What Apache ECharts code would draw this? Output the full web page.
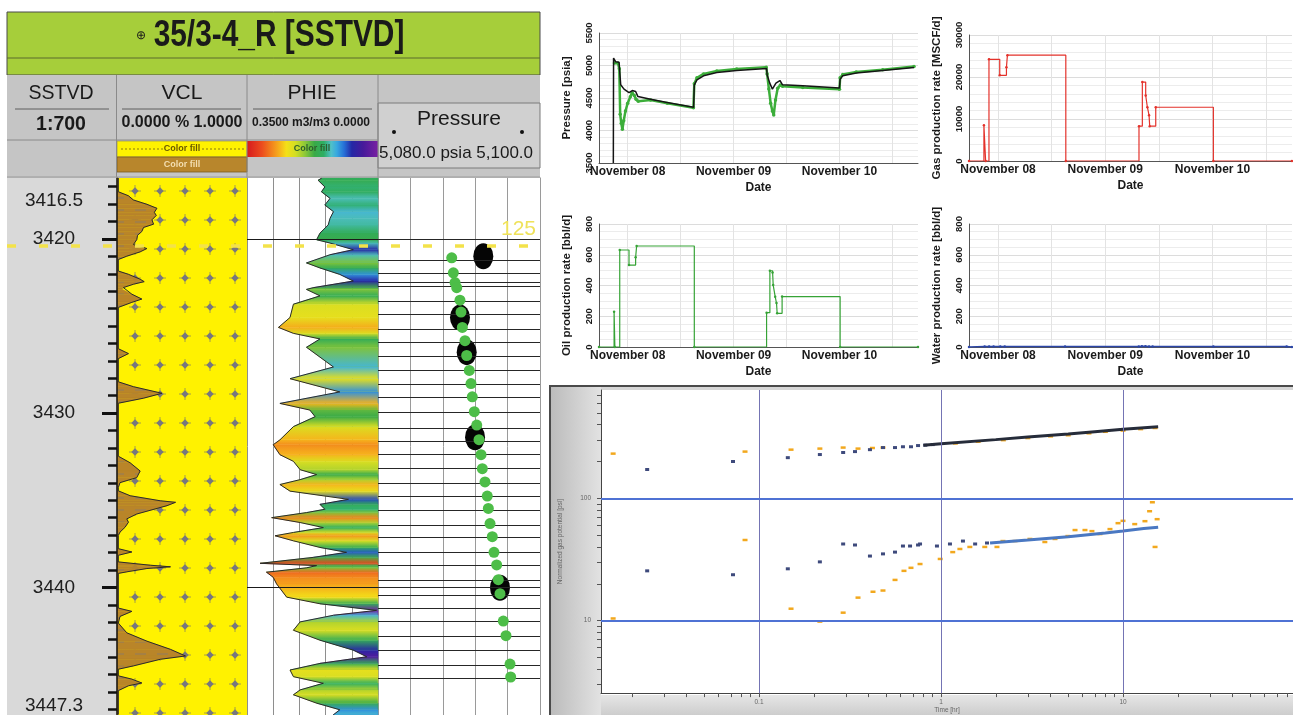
<!DOCTYPE html>
<html>
<head>
<meta charset="utf-8">
<script src="https://cdn.jsdelivr.net/npm/echarts@6/dist/echarts.min.js"></script>
<style>
  html, body { margin: 0; padding: 0; background: #ffffff; }
  #main { width: 1293px; height: 715px; }
</style>
</head>
<body>
<div id="main"></div>
<script>
// ---------------- Well log 35/3-4_R (depth in m SSTVD) ----------------
const depthMin = 3416.5;
const depthMax = 3447.3;
const depthLabelValues = [3416.5, 3420, 3430, 3440, 3447.3];
const depthMajorTicks = [3420, 3430, 3440];
const depthMinorTicks = [3417, 3418, 3419, 3421, 3422, 3423, 3424, 3425, 3426, 3427, 3428, 3429,
  3431, 3432, 3433, 3434, 3435, 3436, 3437, 3438, 3439, 3441, 3442, 3443, 3444, 3445, 3446, 3447];

// Clay volume (fraction)
const vclDepth = [3416.5, 3417.29, 3417.52, 3417.76, 3418.01, 3418.24, 3418.47, 3418.65, 3418.90, 3419.15,
  3419.34, 3419.57, 3419.79, 3420.04, 3420.32, 3420.55, 3420.74, 3420.99, 3421.18, 3421.84,
  3422.03, 3422.31, 3422.45, 3422.60, 3422.79, 3422.89, 3423.17, 3423.45, 3423.64, 3423.93,
  3426.30, 3426.58, 3426.87, 3428.20, 3428.48, 3428.86, 3429.14, 3429.43, 3432.47, 3432.85,
  3433.32, 3433.70, 3433.99, 3434.27, 3434.46, 3434.74, 3435.03, 3435.12, 3435.31, 3435.79,
  3436.07, 3436.26, 3436.55, 3436.83, 3437.02, 3437.78, 3437.97, 3438.16, 3438.54, 3438.73,
  3438.82, 3438.92, 3439.11, 3439.20, 3441.19, 3441.38, 3441.67, 3442.05, 3442.61, 3443.09,
  3443.56, 3443.94, 3444.13, 3444.51, 3444.70, 3445.08, 3445.27, 3445.49, 3445.65, 3445.93, 3447.3];
const vclValue = [0.01, 0.01, 0.088, 0.126, 0.230, 0.307, 0.287, 0.302, 0.269, 0.281,
  0.204, 0.191, 0.158, 0.152, 0.126, 0.230, 0.178, 0.075, 0.01, 0.01,
  0.088, 0.178, 0.209, 0.126, 0.049, 0.04, 0.114, 0.191, 0.114, 0.01,
  0.01, 0.088, 0.01, 0.01, 0.126, 0.346, 0.204, 0.01, 0.01, 0.101,
  0.178, 0.152, 0.023, 0.01, 0.01, 0.101, 0.333, 0.450, 0.385, 0.152,
  0.075, 0.088, 0.062, 0.023, 0.01, 0.01, 0.114, 0.01, 0.01, 0.256,
  0.411, 0.230, 0.075, 0.01, 0.01, 0.114, 0.023, 0.01, 0.075, 0.230,
  0.411, 0.527, 0.333, 0.126, 0.01, 0.01, 0.114, 0.191, 0.088, 0.01, 0.01];

// Effective porosity (m3/m3)
const phieDepth = [3416.5, 3416.63, 3417.01, 3417.29, 3417.67, 3418.05, 3418.43, 3418.81, 3419.19, 3419.66,
  3420.04, 3420.23, 3420.61, 3420.90, 3421.37, 3421.66, 3422.03, 3422.41, 3422.79, 3422.89,
  3423.26, 3423.74, 3424.50, 3425.07, 3425.41, 3425.73, 3426.21, 3427.34, 3428.01, 3428.77,
  3429.43, 3429.81, 3430.19, 3430.76, 3431.52, 3431.80, 3432.37, 3432.75, 3433.23, 3433.51,
  3433.80, 3434.08, 3434.46, 3434.93, 3435.22, 3435.50, 3435.69, 3435.98, 3436.26, 3436.55,
  3436.83, 3437.02, 3437.31, 3437.69, 3437.97, 3438.26, 3438.60, 3438.73, 3438.86, 3439.11,
  3439.40, 3439.78, 3440.54, 3440.92, 3441.30, 3441.58, 3441.96, 3442.44, 3443.01, 3443.58,
  3443.96, 3444.34, 3444.72, 3445.10, 3445.48, 3445.86, 3446.14, 3446.62, 3447.00, 3447.3];
const phieValue = [0.150, 0.160, 0.142, 0.151, 0.128, 0.142, 0.119, 0.128, 0.133, 0.155,
  0.164, 0.128, 0.066, 0.128, 0.191, 0.155, 0.102, 0.066, 0.173, 0.191,
  0.155, 0.226, 0.235, 0.266, 0.226, 0.155, 0.191, 0.119, 0.235, 0.102,
  0.262, 0.182, 0.168, 0.226, 0.262, 0.280, 0.262, 0.226, 0.208, 0.164,
  0.208, 0.262, 0.235, 0.079, 0.155, 0.142, 0.191, 0.284, 0.208, 0.146,
  0.226, 0.275, 0.226, 0.155, 0.084, 0.173, 0.315, 0.164, 0.191, 0.298,
  0.280, 0.271, 0.244, 0.155, 0.004, 0.119, 0.208, 0.226, 0.155, 0.066,
  0.030, 0.155, 0.235, 0.226, 0.146, 0.208, 0.226, 0.164, 0.102, 0.12];

// Formation pressure points (psia)
const rftDepth = [3421.08, 3421.94, 3422.50, 3422.79, 3423.51, 3424.19, 3425.07, 3425.83, 3426.68, 3427.54,
  3428.29, 3429.05, 3429.90, 3430.67, 3431.51, 3432.37, 3433.17, 3433.93, 3434.74, 3435.45,
  3436.32, 3437.07, 3437.97, 3438.69, 3439.54, 3440.34, 3441.91, 3442.75, 3444.38, 3445.12];
const rftPressure = [5089.10, 5089.30, 5089.51, 5089.72, 5090.12, 5090.25, 5090.41, 5090.74, 5090.95, 5091.27,
  5091.48, 5091.64, 5091.89, 5092.19, 5092.47, 5092.72, 5092.88, 5093.21, 5093.49, 5093.62,
  5093.83, 5094.11, 5094.32, 5094.65, 5094.85, 5095.06, 5095.47, 5095.80, 5096.30, 5096.38];
const refDepth = [3420.99, 3424.50, 3426.49, 3431.37, 3440.00];
const refPressure = [5093.0, 5090.12, 5090.95, 5091.98, 5095.06];

const topDepths = [3420, 3440];
const tieLineDepths = [3421.24, 3421.94, 3422.50, 3422.70, 3423.55, 3424.31, 3425.16, 3425.92, 3426.74, 3427.54,
  3428.33, 3429.09, 3429.96, 3430.85, 3431.60, 3432.37, 3433.17, 3433.98, 3434.78, 3435.56,
  3436.39, 3437.11, 3437.97, 3438.73, 3439.58, 3440.43, 3441.19, 3441.95, 3442.81, 3443.56,
  3444.42, 3445.18];
const markerDepth = 3420.38;
const markerLabel = '125';

// ---------------- Well test history (hours from 8 Nov 00:00) ----------------
const hourMin = -6.5;
const hourMax = 65.8;
const dayTickHours = [0, 24, 48];
const dayTickLabels = ['November 08', 'November 09', 'November 10'];
const gridTickHours = [0, 12, 24, 36, 48, 60];

const simHours = [-3.25, -3.2, -2.7, -1.95, -1.58, -0.83, 0.30, 1.05, 1.80, 2.33, 5.18, 8.94, 14.95,
  15.1, 15.7, 17.2, 20.2, 24.7, 31.5, 31.6, 32.2, 32.8, 33.6, 34.5, 35.1, 39.7, 48.0,
  48.15, 48.75, 51.8, 57.8, 64.9];
const simPressure = [3500, 5114, 5057, 5050, 4703, 4636, 4584, 4615, 4600, 4522, 4482, 4430, 4359,
  4703, 4780, 4841, 4893, 4923, 4954, 4857, 4729, 4636, 4729, 4769, 4703, 4687, 4652,
  4790, 4841, 4883, 4923, 4970];
const obsHours = [-3.0, -2.2, -1.9, -1.7, -1.45, -1.2, -0.9, -0.5, 0.0, 0.6, 1.0, 1.5, 1.9, 2.4, 5.2, 9.0, 14.9,
  15.1, 15.7, 17.2, 20.2, 24.7, 31.4, 31.6, 32.0, 32.4, 32.8, 33.1, 33.5, 34.0, 34.6, 35.1, 39.7, 48.0,
  48.15, 48.75, 51.8, 57.8, 64.9];
const obsPressure = [5040, 5035, 4950, 4250, 4110, 4020, 4150, 4300, 4420, 4520, 4580, 4540, 4480, 4450, 4470, 4420, 4350,
  4720, 4810, 4870, 4915, 4945, 4975, 4870, 4640, 4420, 4300, 4240, 4470, 4650, 4700, 4680, 4660, 4635,
  4810, 4860, 4900, 4935, 4985];

const gasHours = [-6.5, -3.16, -2.78, -2.03, 0.38, 1.88, 2.10, 15.17, 31.55, 32.3, 33.05, 33.43, 33.8, 33.95, 35.3, 48.2, 65.8];
const gasRate = [0, 8500, 0, 24200, 20400, 22300, 25200, 0, 8300, 18800, 15600, 12800, 10900, 8300, 12800, 0, 0];
const oilHours = [-6.5, -3.08, -2.9, -1.8, 0.3, 1.8, 2.03, 15.1, 31.48, 32.23, 32.83, 32.98, 33.43, 33.73, 33.88, 35.0, 48.15, 65.8];
const oilRate = [0, 230, 0, 631, 533, 583, 657, 0, 223, 496, 485, 403, 327, 286, 219, 328, 0, 0];
const waterHours = [-6.5, -3.0, -2.0, -1.0, 0.5, 1.5, 15.0, 31.5, 32.2, 33.0, 33.8, 34.6, 48.2, 64.6, 65.8];
const waterRate = [0, 4, 3, 4, 3, 4, 3, 4, 5, 5, 4, 4, 3, 4, 0];

// ---------------- Log-log diagnostic (time in hr, potential in psi) ----------------
const upperOrangeT = [0.0158, 0.0838, 0.150, 0.216, 0.290, 0.350, 0.42, 0.48, 1.2, 1.6, 2.2, 3, 4, 5, 6.5, 8, 10, 12.5, 15];
const upperOrangeP = [232, 241, 250, 255, 260, 255, 258, 260, 281, 290, 299, 311, 321, 328, 340, 350, 358, 368, 376];
const upperNavyT = [0.0243, 0.072, 0.144, 0.216, 0.290, 0.337, 0.407, 0.480, 0.559, 0.618, 0.684, 0.748, 0.82, 0.9];
const upperNavyP = [172, 200, 215, 228, 237, 241, 250, 260, 260, 264, 264, 270, 272, 275];
const upperModelT = [0.8, 1, 2, 3, 5, 7, 10, 15.6];
const upperModelP = [272, 279, 302, 318, 336, 351, 367, 385];
const lowerOrangeT = [0.0158, 0.0838, 0.150, 0.216, 0.290, 0.350, 0.423, 0.480, 0.559, 0.626, 0.684, 0.767, 0.99,
  1.16, 1.27, 1.44, 1.74, 2.03, 2.19, 2.55, 3.08, 3.72, 4.23, 4.98, 5.45, 6.18, 6.75, 7.47, 8.48, 9.39, 10.0,
  11.6, 13.2, 14.0, 14.5, 15.0, 15.4];
const lowerOrangeP = [10.4, 45.6, 12.5, 9.8, 11.6, 15.4, 17.2, 17.6, 21.5, 25.5, 27.0, 29, 31.9,
  36.3, 38.5, 40, 40, 40, 44.7, 44.7, 46.5, 43.9, 46.5, 49.1, 55, 55, 53.9, 51.0, 56, 62.6, 65.4,
  61.5, 65, 78.4, 92.8, 40, 67.5];
const lowerNavyT = [0.0243, 0.072, 0.144, 0.216, 0.290, 0.337, 0.407, 0.480, 0.559, 0.618, 0.676, 0.748, 0.767,
  0.95, 1.12, 1.32, 1.54, 1.79];
const lowerNavyP = [25.5, 23.7, 26.5, 30.2, 42.3, 41.5, 33.7, 35.1, 36.3, 40.7, 40.7, 41.5, 42.3,
  40.7, 42.3, 44.7, 42.3, 43.1];
const lowerModelT = [1.86, 3, 5, 8, 10, 13, 15.6];
const lowerModelP = [43.1, 45.5, 48.5, 52, 54, 56.5, 58];
const logXTicks = [0.02, 0.03, 0.04, 0.05, 0.06, 0.07, 0.08, 0.09, 0.1, 0.2, 0.3, 0.4, 0.5, 0.6, 0.7, 0.8, 0.9,
  1, 2, 3, 4, 5, 6, 7, 8, 9, 10, 20, 30, 40, 50, 60, 70, 80];
const logXLabels = [0.1, 1, 10];
const logYTicks = [3, 4, 5, 6, 7, 8, 9, 10, 20, 30, 40, 50, 60, 70, 80, 90, 100, 200, 300, 400, 500, 600, 700];
const logYLabels = [10, 100];

// ---------------- helpers ----------------
const zip = (a, b) => a.map((v, i) => [v, b[i]]);
const FONT = '"Liberation Sans", Arial, sans-serif';

// porosity colour scale: 0 (purple) ... 0.35 (red)
const phieStops = [
  [0.00, [122, 31, 162]], [0.04, [70, 26, 154]], [0.07, [36, 40, 165]], [0.09, [38, 110, 214]],
  [0.11, [56, 168, 224]], [0.125, [80, 192, 200]], [0.145, [46, 174, 100]], [0.17, [58, 170, 70]],
  [0.195, [140, 200, 56]], [0.22, [210, 222, 36]], [0.245, [244, 224, 24]], [0.262, [246, 180, 28]],
  [0.28, [243, 140, 29]], [0.31, [236, 76, 30]], [0.35, [214, 26, 30]]
];
function phieColor(v) {
  if (v <= phieStops[0][0]) return 'rgb(' + phieStops[0][1].join(',') + ')';
  for (let i = 1; i < phieStops.length; i++) {
    if (v <= phieStops[i][0]) {
      const a = phieStops[i - 1], b = phieStops[i];
      const t = (v - a[0]) / (b[0] - a[0]);
      const c = a[1].map((x, k) => Math.round(x + (b[1][k] - x) * t));
      return 'rgb(' + c.join(',') + ')';
    }
  }
  return 'rgb(' + phieStops[phieStops.length - 1][1].join(',') + ')';
}

// sandstone dot tile for the clay track background
function makeDotTile() {
  const c = document.createElement('canvas');
  c.width = 25; c.height = 29;
  const g = c.getContext('2d');
  g.strokeStyle = 'rgba(105,105,118,0.6)';
  g.lineWidth = 1;
  g.beginPath();
  g.moveTo(4, 17); g.lineTo(16, 17);
  g.moveTo(10, 11); g.lineTo(10, 23);
  g.stroke();
  g.fillStyle = '#77777f';
  g.beginPath();
  g.moveTo(10, 13.3); g.lineTo(13.7, 17); g.lineTo(10, 20.7); g.lineTo(6.3, 17);
  g.closePath(); g.fill();
  return c;
}
// shale pattern tile for the clay fill
function makeShaleTile() {
  const c = document.createElement('canvas');
  c.width = 22; c.height = 12;
  const g = c.getContext('2d');
  g.fillStyle = '#b98529';
  g.fillRect(0, 0, 22, 12);
  g.strokeStyle = 'rgba(120,120,130,0.55)';
  g.lineWidth = 1.2;
  g.beginPath();
  g.moveTo(3, 6); g.lineTo(14, 6);
  g.stroke();
  return c;
}
const dotTile = makeDotTile();
const shaleTile = makeShaleTile();

const vclSegments = vclDepth.slice(0, -1).map((d, i) => [vclValue[i], d, vclValue[i + 1], vclDepth[i + 1]]);
const phieSegments = phieDepth.slice(0, -1).map((d, i) => [phieValue[i], d, phieValue[i + 1], phieDepth[i + 1]]);

function vclSegment(params, api) {
  const v0 = api.value(0), d0 = api.value(1), v1 = api.value(2), d1 = api.value(3);
  return {
    type: 'polygon',
    shape: { points: [api.coord([0, d0]), api.coord([v0, d0]), api.coord([v1, d1]), api.coord([0, d1])] },
    style: { fill: { image: shaleTile, repeat: 'repeat' }, stroke: '#b98529', lineWidth: 0.4 }
  };
}
function phieSegment(params, api) {
  const v0 = api.value(0), d0 = api.value(1), v1 = api.value(2), d1 = api.value(3);
  const c0 = phieColor(v0), c1 = phieColor(v1);
  return {
    type: 'polygon',
    shape: { points: [api.coord([v0, d0]), api.coord([v1, d1]), api.coord([0, d1]), api.coord([0, d0])] },
    style: {
      fill: new echarts.graphic.LinearGradient(0, 0, 0, 1, [{ offset: 0, color: c0 }, { offset: 1, color: c1 }]),
      stroke: c0, lineWidth: 0.5
    }
  };
}

// ---------------- static frame: track headers and panel backgrounds ----------------
const hdrText = (x, y, text, size, weight, extra) => Object.assign({
  type: 'text', x: x, y: y, z: 5,
  style: { text: text, font: (weight || 'normal') + ' ' + size + 'px ' + FONT, fill: '#1a1a1a', align: 'center', verticalAlign: 'middle' }
}, extra || {});
const smallFill = (x, y, color) => ({
  type: 'text', x: x, y: y, z: 5,
  style: { text: 'Color fill', font: 'bold 9px ' + FONT, fill: color, align: 'center', verticalAlign: 'middle' }
});
const hline = (x1, x2, y, color, w) => ({ type: 'line', z: 5, shape: { x1: x1, y1: y, x2: x2, y2: y }, style: { stroke: color, lineWidth: w || 1 } });
const vline = (x, y1, y2, color, w) => ({ type: 'line', z: 5, shape: { x1: x, y1: y1, x2: x, y2: y2 }, style: { stroke: color, lineWidth: w || 1 } });

const rainbow = new echarts.graphic.LinearGradient(0, 0, 1, 0,
  phieStops.slice().reverse().map(s => ({ offset: 1 - s[0] / 0.35, color: 'rgb(' + s[1].join(',') + ')' })));

const frame = [
  // title band
  { type: 'rect', z: 0, shape: { x: 7, y: 12, width: 533, height: 63 }, style: { fill: '#a6ce3a', stroke: '#4a4a4a', lineWidth: 1 } },
  hline(7, 540, 58, '#5b6b2c', 1),
  hdrText(141, 36, '⊕', 12),
  hdrText(279, 36, '35/3-4_R [SSTVD]', 36, 'bold', { scaleX: 0.83 }),
  // header block
  { type: 'rect', z: 0, shape: { x: 7, y: 75, width: 533, height: 104 }, style: { fill: '#c5c5c5' } },
  { type: 'rect', z: 0, shape: { x: 378, y: 103, width: 162, height: 65 }, style: { fill: '#d0d0d0', stroke: '#7a7a7a', lineWidth: 1 } },
  vline(116.5, 75, 178, '#8a8a8a'), vline(247, 75, 178, '#8a8a8a'), vline(378, 75, 178, '#8a8a8a'),
  hline(7, 378, 140, '#8a8a8a'), hline(7, 540, 177, '#9a9a9a'),
  hline(15, 109, 109, '#5e5e5e'), hline(122, 241, 109, '#5e5e5e'), hline(253, 372, 109, '#5e5e5e'),
  hdrText(61, 93, 'SSTVD', 21, 'normal', { scaleX: 0.93 }),
  hdrText(61, 124, '1:700', 21, 'bold', { scaleX: 0.93 }),
  hdrText(182, 93, 'VCL', 21),
  hdrText(182, 123, '0.0000 % 1.0000', 16, 'bold'),
  hdrText(312, 93, 'PHIE', 21),
  hdrText(311, 123, '0.3500 m3/m3 0.0000', 12, 'bold'),
  { type: 'rect', z: 1, shape: { x: 117, y: 141, width: 130, height: 16 }, style: { fill: '#fff200', stroke: '#9a9a60', lineWidth: 0.8 } },
  { type: 'line', z: 5, shape: { x1: 121, y1: 149, x2: 163, y2: 149 }, style: { stroke: '#8a7a10', lineWidth: 1, lineDash: [2, 2] } },
  { type: 'line', z: 5, shape: { x1: 202, y1: 149, x2: 244, y2: 149 }, style: { stroke: '#8a7a10', lineWidth: 1, lineDash: [2, 2] } },
  smallFill(182, 149, '#6b5a00'),
  { type: 'rect', z: 1, shape: { x: 117, y: 157, width: 130, height: 15 }, style: { fill: '#b8862c', stroke: '#7a5a20', lineWidth: 0.8 } },
  smallFill(182, 164.5, '#f3deb0'),
  { type: 'rect', z: 1, shape: { x: 247, y: 141, width: 131, height: 16 }, style: { fill: rainbow } },
  smallFill(312, 149, '#2d5e2d'),
  hdrText(459, 119, 'Pressure', 21),
  { type: 'circle', z: 5, shape: { cx: 394, cy: 132, r: 2 }, style: { fill: '#111' } },
  { type: 'circle', z: 5, shape: { cx: 522, cy: 132, r: 2 }, style: { fill: '#111' } },
  hdrText(456, 153, '5,080.0 psia 5,100.0', 17),
  // track backgrounds
  { type: 'rect', z: 0, shape: { x: 7, y: 178, width: 110, height: 541 }, style: { fill: '#d9d9d9' } },
  { type: 'rect', z: 0, shape: { x: 117, y: 178, width: 130, height: 541 }, style: { fill: '#fff200' } },
  { type: 'rect', z: 0, shape: { x: 117, y: 178, width: 130, height: 541 }, style: { fill: { image: dotTile, repeat: 'repeat' } } },
  { type: 'rect', z: 0, shape: { x: 247, y: 178, width: 131, height: 541 }, style: { fill: '#ffffff' } },
  { type: 'rect', z: 0, shape: { x: 378, y: 178, width: 162, height: 541 }, style: { fill: '#ffffff' } },
  // log-log frame
  { type: 'rect', z: 0, shape: { x: 550, y: 386, width: 746, height: 332 }, style: { fill: '#d6d6d6', stroke: '#4a4a4a', lineWidth: 2 } },
  { type: 'rect', z: 0, shape: { x: 551, y: 387, width: 50, height: 328 },
    style: { fill: new echarts.graphic.LinearGradient(0, 0, 1, 0, [{ offset: 0, color: '#bcbcbc' }, { offset: 1, color: '#e2e2e2' }]) } },
  { type: 'rect', z: 0, shape: { x: 601, y: 695, width: 692, height: 20 },
    style: { fill: new echarts.graphic.LinearGradient(0, 0, 0, 1, [{ offset: 0, color: '#e6e6e6' }, { offset: 1, color: '#cdcdcd' }]) } },
  { type: 'rect', z: 0, shape: { x: 601, y: 390, width: 692, height: 305 }, style: { fill: '#ffffff' } }
];

// ---------------- axes ----------------
const hiddenDepthAxis = (gridIndex) => ({ type: 'value', gridIndex: gridIndex, min: depthMin, max: depthMax, inverse: true, show: false });

function timeAxis(gridIndex) {
  return {
    type: 'value', gridIndex: gridIndex, min: hourMin, max: hourMax, z: 1,
    name: 'Date', nameLocation: 'middle', nameGap: 19,
    nameTextStyle: { fontWeight: 'bold', fontSize: 12, color: '#1a1a1a', fontFamily: FONT },
    axisLine: { onZero: false, lineStyle: { color: '#555' } },
    axisTick: { show: false, customValues: gridTickHours },
    axisLabel: {
      customValues: dayTickHours, margin: 3, fontWeight: 'bold', fontSize: 12, color: '#1a1a1a', fontFamily: FONT,
      formatter: (v) => { const i = dayTickHours.indexOf(v); return i >= 0 ? dayTickLabels[i] : ''; }
    },
    splitLine: { show: true, lineStyle: { color: '#e3e3e3' } }
  };
}
function rateAxis(gridIndex, name, min, max, interval, minorSplit) {
  return {
    type: 'value', gridIndex: gridIndex, min: min, max: max, interval: interval, z: 1,
    name: name, nameLocation: 'middle', nameGap: 26,
    nameTextStyle: { fontWeight: 'bold', fontSize: 11.5, color: '#1a1a1a', fontFamily: FONT },
    axisLine: { show: true, onZero: false, lineStyle: { color: '#555' } },
    axisTick: { show: false },
    axisLabel: { rotate: 90, margin: 5, fontWeight: 'bold', fontSize: 9.5, color: '#1a1a1a', fontFamily: FONT,
      formatter: (v) => String(v) },
    splitLine: { show: true, lineStyle: { color: '#dcdcdc' } },
    minorTick: { show: false, splitNumber: minorSplit },
    minorSplitLine: { show: true, lineStyle: { color: '#ececec' } }
  };
}

const option = {
  animation: false,
  backgroundColor: '#ffffff',
  textStyle: { fontFamily: FONT },
  graphic: { elements: frame },
  grid: [
    { left: 117, top: 178, width: 130, height: 541, show: true, borderColor: '#111', borderWidth: 1.2, backgroundColor: 'transparent' },
    { left: 247, top: 178, width: 131, height: 541, show: true, borderColor: '#222', borderWidth: 1.2, backgroundColor: 'transparent' },
    { left: 378, top: 178, width: 162, height: 541, show: true, borderColor: '#555', borderWidth: 1.2, backgroundColor: 'transparent' },
    { left: 7, top: 178, width: 533, height: 541, show: false },
    { left: 599, top: 33, width: 319, height: 130 },
    { left: 969, top: 35, width: 323, height: 126 },
    { left: 599, top: 224, width: 319, height: 123 },
    { left: 969, top: 224, width: 323, height: 123 },
    { left: 601, top: 390, width: 692, height: 305 }
  ],
  xAxis: [
    { type: 'value', gridIndex: 0, min: 0, max: 1, show: false },
    { type: 'value', gridIndex: 1, min: 0, max: 0.35, interval: 0.07, inverse: true, z: 1,
      axisLine: { show: false }, axisTick: { show: false }, axisLabel: { show: false },
      splitLine: { show: true, lineStyle: { color: '#8e8e8e', width: 1 } } },
    { type: 'value', gridIndex: 2, min: 5080, max: 5100, interval: 4, z: 1,
      axisLine: { show: false }, axisTick: { show: false }, axisLabel: { show: false },
      splitLine: { show: true, lineStyle: { color: '#9a9a9a', width: 1 } } },
    { type: 'value', gridIndex: 3, min: 0, max: 1, show: false },
    timeAxis(4), timeAxis(5), timeAxis(6), timeAxis(7),
    { type: 'log', gridIndex: 8, logBase: 10, min: 0.01355, max: 85.9, z: 1,
      name: 'Time [hr]', nameLocation: 'middle', nameGap: 13,
      nameTextStyle: { fontSize: 6.5, color: '#666' },
      axisLine: { onZero: false, lineStyle: { color: '#444' } },
      axisTick: { customValues: logXTicks, length: 4, lineStyle: { color: '#555' } },
      axisLabel: { customValues: logXLabels, fontSize: 6.5, color: '#666', margin: 6, formatter: (v) => String(v) },
      splitLine: { show: false }, minorTick: { show: false } }
  ],
  yAxis: [
    { type: 'value', gridIndex: 0, position: 'left', offset: 0, min: depthMin, max: depthMax, inverse: true, z: 3,
      axisLine: { show: true, onZero: false, lineStyle: { color: '#111', width: 1.5 } },
      axisTick: { show: true, customValues: depthMinorTicks, length: 9, lineStyle: { color: '#111', width: 2.5 } },
      axisLabel: { show: false }, splitLine: { show: false } },
    { type: 'value', gridIndex: 0, position: 'left', offset: 0, min: depthMin, max: depthMax, inverse: true, z: 3,
      axisLine: { show: false, onZero: false },
      axisTick: { show: true, customValues: depthMajorTicks, length: 15, lineStyle: { color: '#111', width: 3 } },
      axisLabel: {
        customValues: depthLabelValues, align: 'center', margin: 63, fontSize: 19, color: '#202020', fontFamily: FONT,
        formatter: (v) => v === depthMin ? '{top|' + v + '}' : (v === depthMax ? '{bot|' + v + '}' : String(v)),
        rich: {
          top: { fontSize: 19, color: '#202020', fontFamily: FONT, padding: [46, 0, 0, 0] },
          bot: { fontSize: 19, color: '#202020', fontFamily: FONT, padding: [0, 0, 18, 0] }
        }
      },
      splitLine: { show: false } },
    hiddenDepthAxis(1), hiddenDepthAxis(2), hiddenDepthAxis(3),
    rateAxis(4, 'Pressure [psia]', 3500, 5500, 500, 5),
    rateAxis(5, 'Gas production rate [MSCF/d]', 0, 30000, 10000, 5),
    rateAxis(6, 'Oil production rate [bbl/d]', 0, 800, 200, 4),
    rateAxis(7, 'Water production rate [bbl/d]', 0, 800, 200, 4),
    { type: 'log', gridIndex: 8, logBase: 10, min: 2.55, max: 769, z: 1,
      name: 'Normalized gas potential [psi]', nameLocation: 'middle', nameGap: 37,
      nameTextStyle: { fontSize: 6.5, color: '#666' },
      axisLine: { onZero: false, lineStyle: { color: '#444' } },
      axisTick: { customValues: logYTicks, length: 4, lineStyle: { color: '#555' } },
      axisLabel: { customValues: logYLabels, fontSize: 6.5, color: '#666', margin: 10, formatter: (v) => String(v) },
      splitLine: { show: false }, minorTick: { show: false } }
  ],
  series: [
    // clay volume fill and curve
    { type: 'custom', name: 'VCL fill', xAxisIndex: 0, yAxisIndex: 0, z: 2, silent: true,
      renderItem: vclSegment, encode: { x: [0, 2], y: [1, 3] }, data: vclSegments },
    { type: 'line', name: 'VCL', xAxisIndex: 0, yAxisIndex: 0, z: 3, symbol: 'none', silent: true,
      lineStyle: { color: '#2a2a2a', width: 1 }, data: zip(vclValue, vclDepth) },
    // formation tops under porosity fill
    { type: 'line', name: 'Tops', xAxisIndex: 1, yAxisIndex: 2, z: 2, data: [],
      markLine: { silent: true, symbol: ['none', 'none'], label: { show: false },
        lineStyle: { color: '#1a1a1a', width: 1.2, type: 'solid' }, data: topDepths.map(d => ({ yAxis: d })) } },
    { type: 'custom', name: 'PHIE fill', xAxisIndex: 1, yAxisIndex: 2, z: 3, silent: true,
      renderItem: phieSegment, encode: { x: [0, 2], y: [1, 3] }, data: phieSegments },
    { type: 'line', name: 'PHIE', xAxisIndex: 1, yAxisIndex: 2, z: 4, symbol: 'none', silent: true,
      lineStyle: { color: '#2a2a2a', width: 1 }, data: zip(phieValue, phieDepth) },
    // pressure track
    { type: 'line', name: 'Ties', xAxisIndex: 2, yAxisIndex: 3, z: 2, data: [],
      markLine: { silent: true, symbol: ['none', 'none'], label: { show: false },
        lineStyle: { color: '#262626', width: 1.1, type: 'solid' },
        data: tieLineDepths.concat(topDepths).map(d => ({ yAxis: d })) } },
    { type: 'scatter', name: 'Reference pressure', xAxisIndex: 2, yAxisIndex: 3, z: 4, silent: true,
      symbol: 'circle', symbolSize: [20, 26], itemStyle: { color: '#050505', opacity: 1 }, data: zip(refPressure, refDepth) },
    { type: 'scatter', name: 'Formation pressure', xAxisIndex: 2, yAxisIndex: 3, z: 5, silent: true,
      symbol: 'circle', symbolSize: 11, itemStyle: { color: '#4dbd48', opacity: 1 }, data: zip(rftPressure, rftDepth) },
    // marker line across all tracks
    { type: 'line', name: 'Marker', xAxisIndex: 3, yAxisIndex: 4, z: 10, data: [],
      markLine: { silent: true, symbol: ['none', 'none'],
        lineStyle: { color: '#f3e24a', width: 3.5, type: [9, 23] },
        label: { show: true, position: 'insideEndTop', formatter: markerLabel, color: '#efe25a', fontSize: 21, distance: [4, 6] },
        data: [{ yAxis: markerDepth }] } },

    // well test history
    { type: 'line', name: 'Observed pressure', xAxisIndex: 4, yAxisIndex: 5, z: 3, silent: true,
      symbol: 'circle', symbolSize: 3.5, showSymbol: true, itemStyle: { color: '#3cae3a' },
      lineStyle: { color: '#3cae3a', width: 2.5 }, data: zip(obsHours, obsPressure) },
    { type: 'line', name: 'Simulated pressure', xAxisIndex: 4, yAxisIndex: 5, z: 4, silent: true,
      symbol: 'none', lineStyle: { color: '#151515', width: 1.5 }, data: zip(simHours, simPressure) },
    { type: 'line', name: 'Gas rate', xAxisIndex: 5, yAxisIndex: 6, z: 3, silent: true, step: 'end',
      symbol: 'circle', symbolSize: 2.5, itemStyle: { color: '#e4322b' },
      lineStyle: { color: '#e4322b', width: 1.2 }, data: zip(gasHours, gasRate) },
    { type: 'line', name: 'Oil rate', xAxisIndex: 6, yAxisIndex: 7, z: 3, silent: true, step: 'end',
      symbol: 'circle', symbolSize: 2.5, itemStyle: { color: '#36a336' },
      lineStyle: { color: '#36a336', width: 1.2 }, data: zip(oilHours, oilRate) },
    { type: 'line', name: 'Water rate', xAxisIndex: 7, yAxisIndex: 8, z: 3, silent: true,
      symbol: 'circle', symbolSize: 2.5, itemStyle: { color: '#2b46a8' },
      lineStyle: { color: '#2b46a8', width: 1.5 }, data: zip(waterHours, waterRate) },

    // log-log diagnostic
    { type: 'line', name: 'Decade grid', xAxisIndex: 8, yAxisIndex: 9, z: 2, data: [],
      markLine: { silent: true, symbol: ['none', 'none'], label: { show: false },
        data: logXLabels.map(v => ({ xAxis: v, lineStyle: { color: '#7474b4', width: 1, type: 'solid' } }))
          .concat(logYLabels.map(v => ({ yAxis: v, lineStyle: { color: '#4f72d4', width: 2, type: 'solid' } }))) } },
    { type: 'scatter', name: 'Pressure change', xAxisIndex: 8, yAxisIndex: 9, z: 3, silent: true,
      symbol: 'rect', symbolSize: [5, 2.5], itemStyle: { color: '#f2a81e', opacity: 1 },
      data: zip(upperOrangeT, upperOrangeP).concat(zip(lowerOrangeT, lowerOrangeP)) },
    { type: 'scatter', name: 'Derivative', xAxisIndex: 8, yAxisIndex: 9, z: 3, silent: true,
      symbol: 'rect', symbolSize: [4, 3], itemStyle: { color: '#3e4a7c', opacity: 1 },
      data: zip(upperNavyT, upperNavyP).concat(zip(lowerNavyT, lowerNavyP)) },
    { type: 'line', name: 'Model pressure', xAxisIndex: 8, yAxisIndex: 9, z: 4, silent: true, symbol: 'none',
      lineStyle: { color: '#262c3a', width: 3 }, data: zip(upperModelT, upperModelP) },
    { type: 'line', name: 'Model derivative', xAxisIndex: 8, yAxisIndex: 9, z: 4, silent: true, symbol: 'none',
      lineStyle: { color: '#4a78c2', width: 3 }, data: zip(lowerModelT, lowerModelP) }
  ]
};

const chart = echarts.init(document.getElementById('main'), null, { renderer: 'canvas', width: 1293, height: 715 });
chart.setOption(option);
</script>
</body>
</html>
